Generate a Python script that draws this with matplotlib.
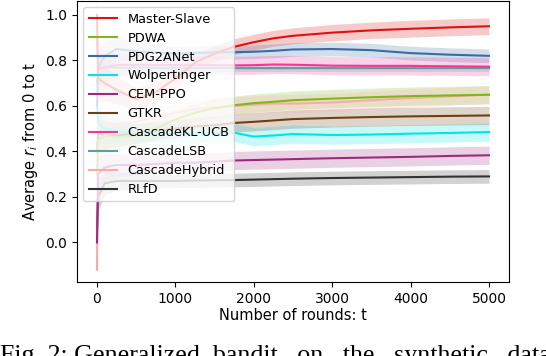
import matplotlib
matplotlib.use("Agg")
import matplotlib.pyplot as plt
import numpy as np

# ---- data ----
rounds = [0, 15, 100, 250, 500, 750, 1000, 1250, 1500, 1750, 2000, 2250, 2500, 3000, 3500, 4000, 4500, 5000]

names = ["Master-Slave", "PDWA", "PDG2ANet", "Wolpertinger", "CEM-PPO", "GTKR",
         "CascadeKL-UCB", "CascadeLSB", "CascadeHybrid", "RLfD"]

master_slave   = [1.00, 0.72, 0.70, 0.67, 0.63, 0.66, 0.72, 0.79, 0.83, 0.86, 0.88, 0.897, 0.908, 0.922, 0.932, 0.939, 0.945, 0.950]
pdwa           = [0.30, 0.45, 0.47, 0.46, 0.47, 0.50, 0.54, 0.57, 0.59, 0.603, 0.612, 0.618, 0.625, 0.632, 0.638, 0.643, 0.646, 0.649]
pdg2anet       = [0.60, 0.77, 0.82, 0.85, 0.84, 0.835, 0.83, 0.833, 0.835, 0.836, 0.838, 0.842, 0.848, 0.850, 0.845, 0.832, 0.825, 0.820]
wolpertinger   = [0.60, 0.52, 0.50, 0.49, 0.48, 0.48, 0.48, 0.475, 0.48, 0.482, 0.465, 0.470, 0.476, 0.472, 0.474, 0.478, 0.481, 0.485]
cem_ppo        = [0.00, 0.30, 0.33, 0.34, 0.34, 0.345, 0.35, 0.35, 0.355, 0.36, 0.362, 0.364, 0.366, 0.370, 0.373, 0.376, 0.380, 0.383]
gtkr           = [0.40, 0.48, 0.47, 0.47, 0.48, 0.49, 0.50, 0.51, 0.515, 0.525, 0.530, 0.536, 0.542, 0.547, 0.551, 0.554, 0.556, 0.558]
cascade_kl_ucb = [0.90, 0.76, 0.77, 0.78, 0.78, 0.78, 0.78, 0.78, 0.779, 0.778, 0.779, 0.782, 0.781, 0.777, 0.776, 0.776, 0.774, 0.772]
cascade_lsb    = [0.70, 0.77, 0.77, 0.768, 0.768, 0.767, 0.767, 0.767, 0.767, 0.766, 0.766, 0.766, 0.766, 0.766, 0.766, 0.766, 0.766, 0.766]
cascade_hybrid = [-0.12, 0.50, 0.52, 0.52, 0.53, 0.55, 0.57, 0.585, 0.595, 0.600, 0.605, 0.610, 0.610, 0.615, 0.625, 0.635, 0.642, 0.649]
rlfd           = [0.06, 0.20, 0.26, 0.27, 0.27, 0.27, 0.27, 0.272, 0.273, 0.274, 0.276, 0.278, 0.280, 0.283, 0.285, 0.287, 0.289, 0.290]

# half-width of the shaded bands
band_master_slave   = [0.10, 0.10, 0.08, 0.06, 0.05, 0.045, 0.04, 0.035, 0.035, 0.035, 0.035, 0.035, 0.035, 0.036, 0.036, 0.037, 0.037, 0.037]
band_pdwa           = [0.10, 0.09, 0.07, 0.06, 0.05, 0.045, 0.04, 0.04, 0.04, 0.04, 0.04, 0.04, 0.04, 0.04, 0.04, 0.04, 0.04, 0.04]
band_pdg2anet       = [0.10, 0.08, 0.06, 0.05, 0.04, 0.035, 0.03, 0.03, 0.03, 0.03, 0.03, 0.03, 0.03, 0.03, 0.03, 0.03, 0.03, 0.03]
band_wolpertinger   = [0.10, 0.08, 0.06, 0.05, 0.045, 0.04, 0.04, 0.04, 0.04, 0.04, 0.04, 0.04, 0.04, 0.04, 0.04, 0.04, 0.04, 0.04]
band_cem_ppo        = [0.10, 0.08, 0.06, 0.05, 0.045, 0.04, 0.04, 0.04, 0.04, 0.04, 0.04, 0.04, 0.04, 0.04, 0.04, 0.04, 0.04, 0.04]
band_gtkr           = [0.10, 0.08, 0.06, 0.05, 0.045, 0.04, 0.04, 0.04, 0.04, 0.04, 0.04, 0.04, 0.04, 0.04, 0.04, 0.04, 0.04, 0.04]
band_cascade_kl_ucb = [0.10, 0.08, 0.06, 0.05, 0.045, 0.04, 0.04, 0.04, 0.04, 0.04, 0.04, 0.04, 0.04, 0.04, 0.04, 0.04, 0.04, 0.04]
band_cascade_lsb    = [0.10, 0.06, 0.04, 0.03, 0.02, 0.02, 0.015, 0.015, 0.015, 0.015, 0.015, 0.015, 0.015, 0.015, 0.015, 0.015, 0.015, 0.015]
band_cascade_hybrid = [0.10, 0.09, 0.07, 0.06, 0.05, 0.045, 0.04, 0.04, 0.04, 0.04, 0.04, 0.04, 0.04, 0.04, 0.04, 0.04, 0.04, 0.04]
band_rlfd           = [0.10, 0.06, 0.05, 0.04, 0.035, 0.03, 0.03, 0.03, 0.03, 0.03, 0.03, 0.03, 0.03, 0.03, 0.03, 0.03, 0.03, 0.03]

colors = ["#dd1111", "#7fb71a", "#3a6ba5", "#00e3ea", "#9e2a7e", "#6e3f12",
          "#f2369a", "#5f9ea0", "#f8aaaa", "#333333"]

series = [master_slave, pdwa, pdg2anet, wolpertinger, cem_ppo, gtkr,
          cascade_kl_ucb, cascade_lsb, cascade_hybrid, rlfd]
bands = [band_master_slave, band_pdwa, band_pdg2anet, band_wolpertinger, band_cem_ppo,
         band_gtkr, band_cascade_kl_ucb, band_cascade_lsb, band_cascade_hybrid, band_rlfd]

x_ticks = [0, 1000, 2000, 3000, 4000, 5000]
y_ticks = [0.0, 0.2, 0.4, 0.6, 0.8, 1.0]

# ---- figure ----
fig = plt.figure(figsize=(5.46, 3.56), dpi=100)
ax = fig.add_axes([77 / 546, 1 - 282 / 356, (509 - 77) / 546, (282 - 1) / 356])

t = np.array(rounds, dtype=float)
for name, m, b, c in zip(names, series, bands, colors):
    m = np.array(m)
    b = np.array(b)
    ax.fill_between(t, m - b, m + b, color=c, alpha=0.22, lw=0)
for i, (name, m, c) in enumerate(zip(names, series, colors)):
    ax.plot(t, m, color=c, lw=1.5, label=name, zorder=3 + (10 - i) * 0.01)

ax.set_xlim(-255, 5255)
ax.set_ylim(-0.174, 1.061)
ax.set_xticks(x_ticks)
ax.set_yticks(y_ticks)
ax.set_yticklabels([f"{v:.1f}" for v in y_ticks])
ax.tick_params(labelsize=10)
ax.set_xlabel("Number of rounds: t", fontsize=10.5, labelpad=2)
ax.set_ylabel("Average $r_i$ from 0 to t", fontsize=10.5)

leg = ax.legend(loc="upper left", fontsize=9.3, framealpha=0.8,
                labelspacing=0.46, handlelength=2.2)
leg.set_zorder(10)

fig.text(0.0, -0.017, "Fig. 2: Generalized  bandit   on   the   synthetic   data",
         family="Liberation Serif", fontsize=18.7, va="baseline", ha="left")

fig.savefig("out.png", dpi=100)
